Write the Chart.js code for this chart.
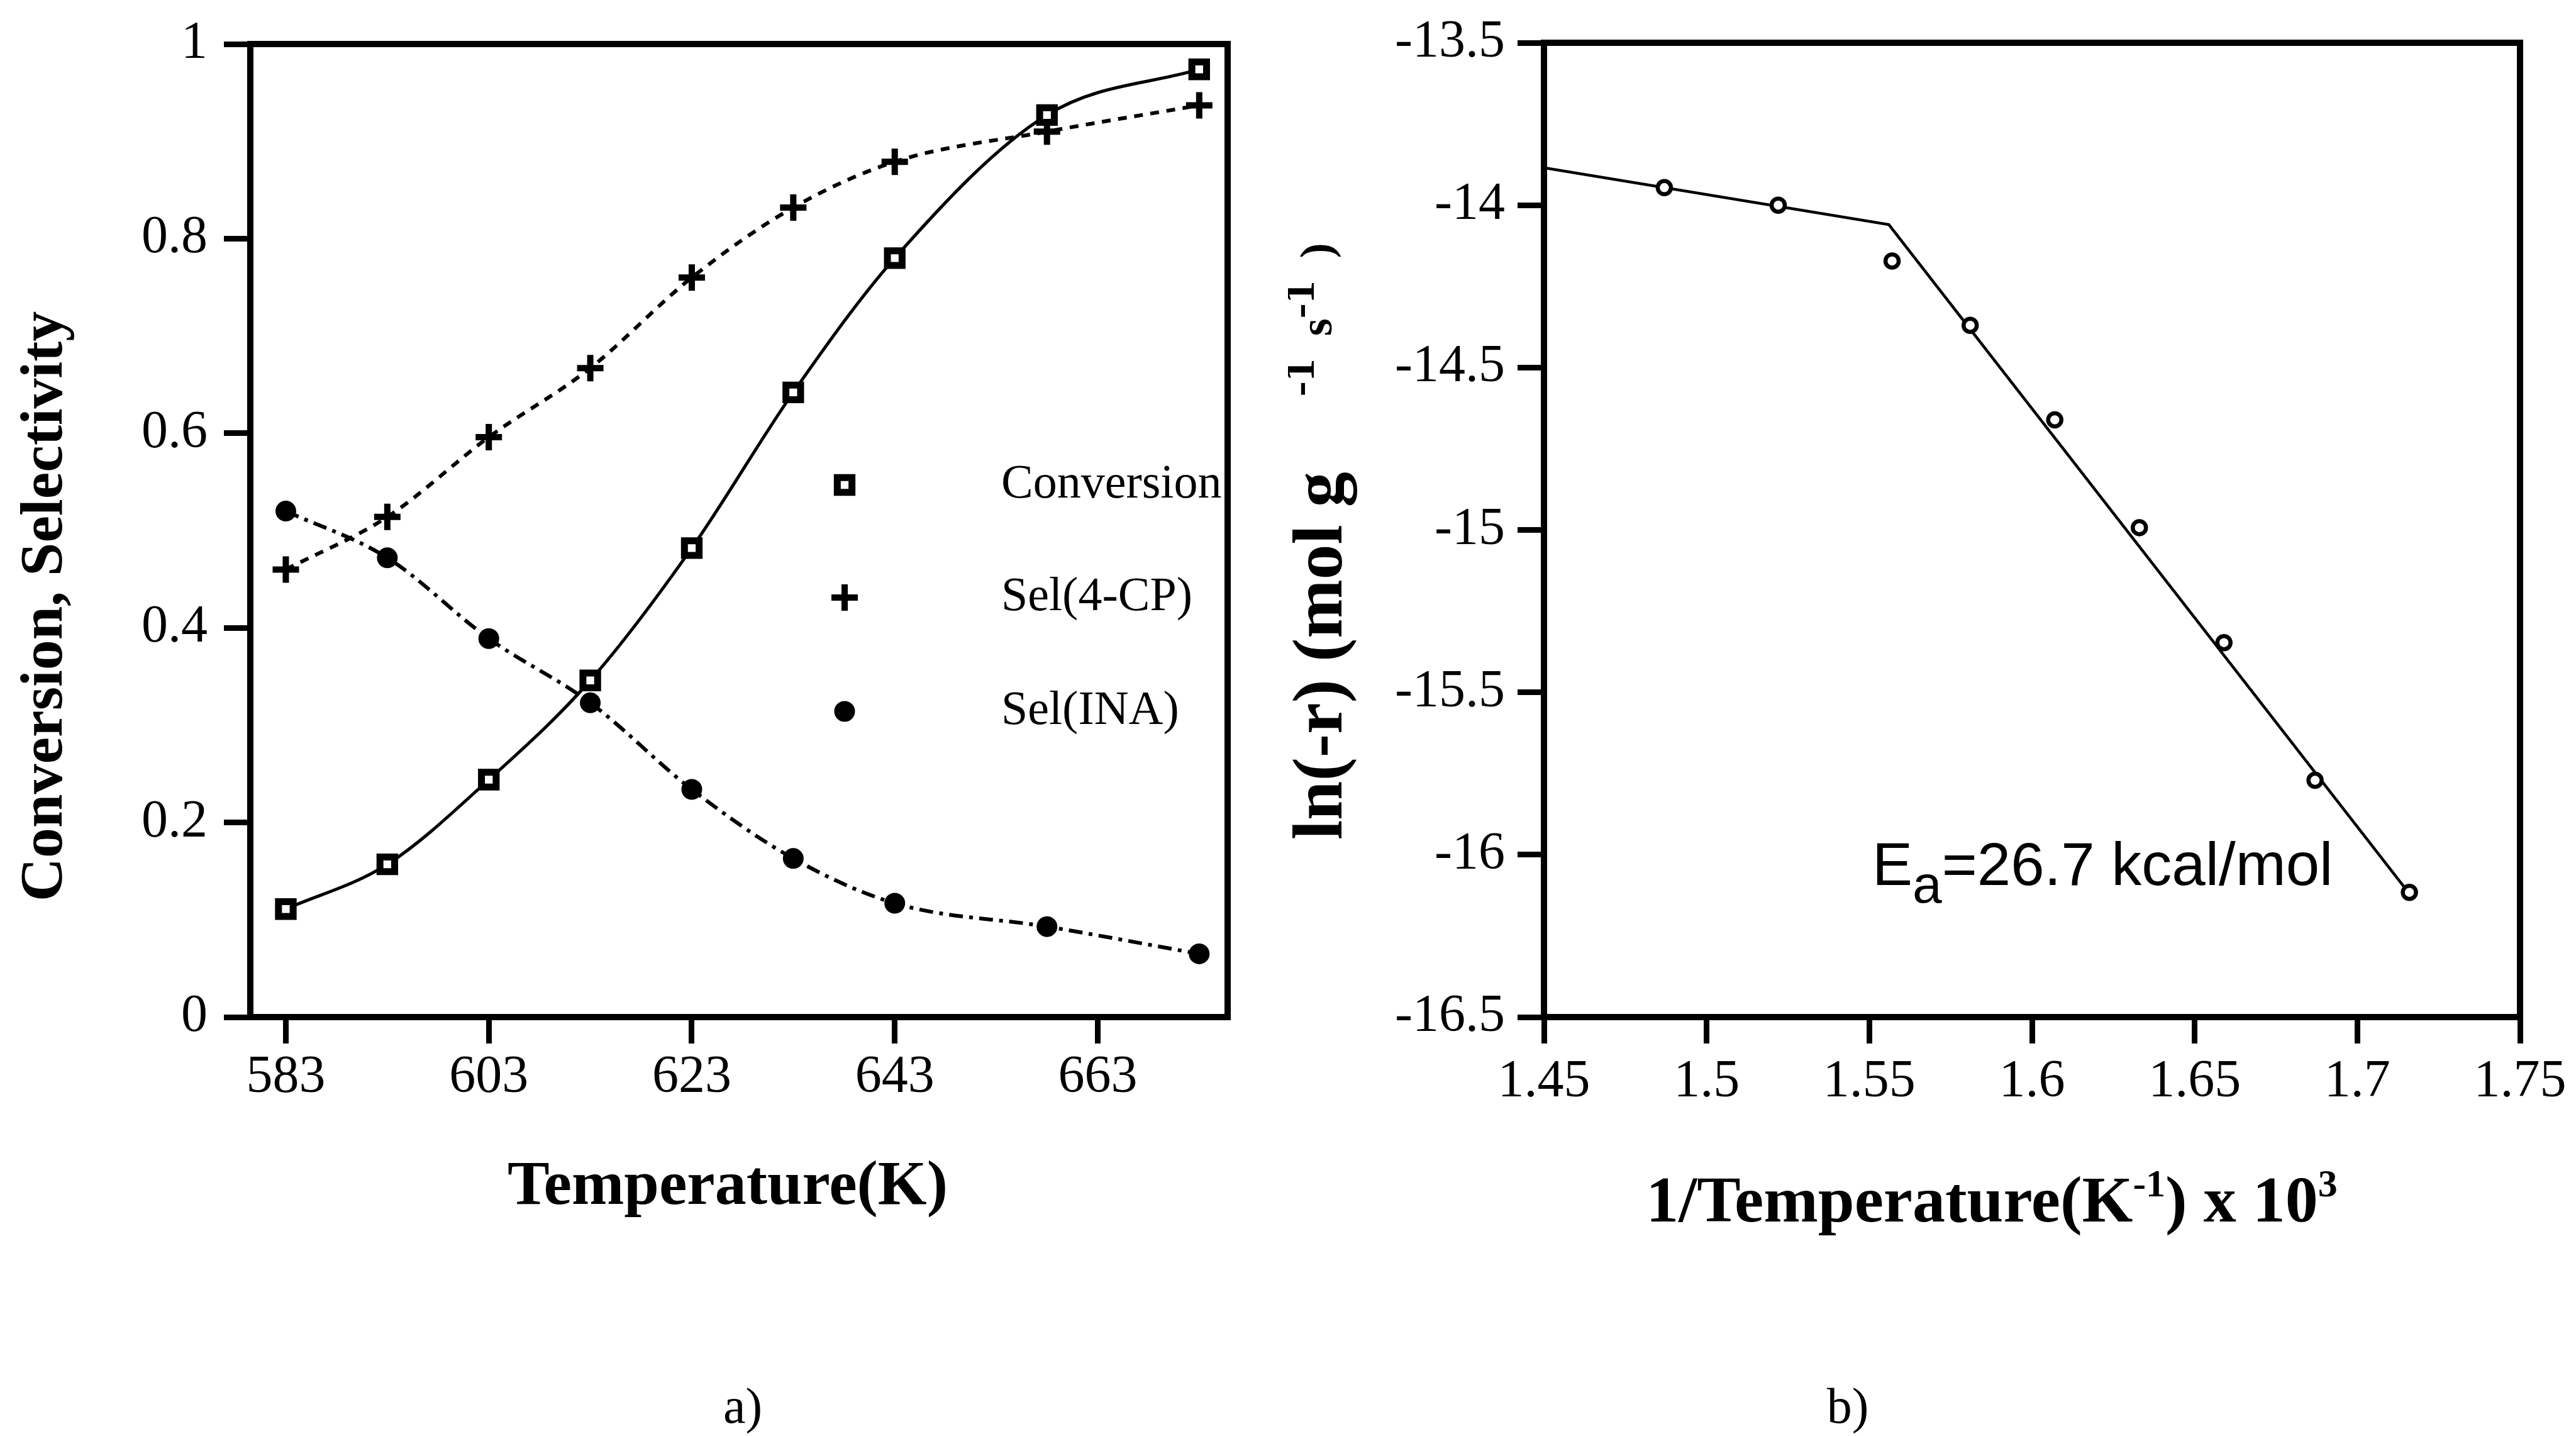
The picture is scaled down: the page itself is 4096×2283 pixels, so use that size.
<!DOCTYPE html>
<html lang="en">
<head>
<meta charset="UTF-8">
<title>Conversion, selectivity and Arrhenius plot</title>
<script src="https://cdn.jsdelivr.net/npm/chart.js@4.4.1/dist/chart.umd.min.js"></script>
<style>
  * { margin: 0; padding: 0; box-sizing: border-box; }
  html, body { width: 4096px; height: 2283px; background: #fff; overflow: hidden; }
  .panel { position: absolute; top: 0; width: 2048px; height: 2283px; }
  #panelA { left: 0; }
  #panelB { left: 2048px; }
</style>
</head>
<body>
<div class="panel" id="panelA"><canvas id="chartA"></canvas></div>
<div class="panel" id="panelB"><canvas id="chartB"></canvas></div>
<script>
// a) conversion and selectivities against temperature
const temperature = [583, 593, 603, 613, 623, 633, 643, 658, 673];
const conversion = [0.111, 0.157, 0.244, 0.346, 0.482, 0.642, 0.780, 0.927, 0.974];
const selCP = [0.460, 0.514, 0.596, 0.667, 0.760, 0.832, 0.879, 0.910, 0.937];
const selINA = [0.520, 0.472, 0.389, 0.323, 0.234, 0.163, 0.117, 0.093, 0.065];
const tempTicks = [583, 603, 623, 643, 663];
const fracTicks = [0, 0.2, 0.4, 0.6, 0.8, 1];
const fracLabels = ['0', '0.2', '0.4', '0.6', '0.8', '1'];

// b) Arrhenius plot
const invTemp = [1.487, 1.522, 1.557, 1.581, 1.607, 1.633, 1.659, 1.687, 1.716];
const lnRate = [-13.946, -14.0, -14.172, -14.37, -14.661, -14.993, -15.347, -15.771, -16.116];
const fitX = [1.45, 1.556, 1.716];
const fitY = [-13.885, -14.06, -16.12];
const invTicks = [1.45, 1.5, 1.55, 1.6, 1.65, 1.7, 1.75];
const invLabels = ['1.45', '1.5', '1.55', '1.6', '1.65', '1.7', '1.75'];
const lnTicks = [-16.5, -16, -15.5, -15, -14.5, -14, -13.5];
const lnLabels = ['-16.5', '-16', '-15.5', '-15', '-14.5', '-14', '-13.5'];

const SERIF = "'Liberation Serif', 'Times New Roman', serif";
const SANS = "'Liberation Sans', Arial, sans-serif";

const xy = (xs, ys) => xs.map((x, i) => ({ x: x, y: ys[i] }));

// draw a row of text pieces (font, offset) one after the other
function drawRuns(ctx, runs, x, y, align) {
    let total = 0;
    runs.forEach(r => { ctx.font = r.font; total += ctx.measureText(r.text).width + (r.gap || 0); });
    let cx = align === 'center' ? x - total / 2 : x;
    runs.forEach(r => {
        ctx.font = r.font;
        cx += r.gap || 0;
        ctx.fillText(r.text, cx, y + (r.dy || 0));
        cx += ctx.measureText(r.text).width;
    });
}

function frame(chart, width) {
    const a = chart.chartArea, ctx = chart.ctx;
    ctx.save();
    ctx.strokeStyle = '#000';
    ctx.lineWidth = width;
    ctx.strokeRect(a.left, a.top, a.right - a.left, a.bottom - a.top);
    ctx.restore();
}

function axisOpts(min, max, ticks, labels, pad, size) {
    return {
        type: 'linear',
        min: min,
        max: max,
        afterBuildTicks: s => { s.ticks = ticks.map(v => ({ value: v })); },
        afterFit: s => {
            if (s.isHorizontal()) { s.height = size; s.paddingLeft = 0; s.paddingRight = 0; }
            else { s.width = size; s.paddingTop = 0; s.paddingBottom = 0; }
        },
        ticks: {
            autoSkip: false,
            maxRotation: 0,
            color: '#000',
            padding: pad,
            font: { family: SERIF, size: 84 },
            callback: v => labels[ticks.indexOf(v)]
        },
        grid: {
            drawOnChartArea: false,
            drawTicks: true,
            tickLength: 42,
            tickWidth: 9,
            tickColor: '#000'
        },
        border: { display: false }
    };
}

const common = {
    responsive: true,
    maintainAspectRatio: false,
    animation: false,
    events: [],
    plugins: { legend: { display: false }, tooltip: { enabled: false } }
};

// Chart a)
new Chart(document.getElementById('chartA'), {
    type: 'line',
    data: {
        datasets: [{
            label: 'Conversion',
            data: xy(temperature, conversion),
            borderColor: '#000',
            borderWidth: 5,
            cubicInterpolationMode: 'monotone',
            pointStyle: 'rect',
            pointRadius: 16.5,
            pointBorderWidth: 11,
            pointBackgroundColor: '#fff',
            pointBorderColor: '#000'
        }, {
            label: 'Sel(4-CP)',
            data: xy(temperature, selCP),
            borderColor: '#000',
            borderWidth: 6,
            borderDash: [14, 12],
            cubicInterpolationMode: 'monotone',
            pointStyle: 'cross',
            pointRadius: 21,
            pointBorderWidth: 10,
            pointBackgroundColor: '#000',
            pointBorderColor: '#000'
        }, {
            label: 'Sel(INA)',
            data: xy(temperature, selINA),
            borderColor: '#000',
            borderWidth: 6,
            borderDash: [22, 10, 6, 10],
            cubicInterpolationMode: 'monotone',
            pointStyle: 'circle',
            pointRadius: 15,
            pointBorderWidth: 3,
            pointBackgroundColor: '#000',
            pointBorderColor: '#000'
        }]
    },
    options: Object.assign({}, common, {
        layout: { padding: { left: 18, right: 96, top: 70, bottom: 366 } },
        scales: {
            x: axisOpts(579.5, 675.8, tempTicks, tempTicks.map(String), 5, 300),
            y: axisOpts(0, 1, fracTicks, fracLabels, 26, 380)
        }
    }),
    plugins: [{
        id: 'decorA',
        beforeDatasetsDraw(chart) { frame(chart, 10); },
        afterDraw(chart) {
            const ctx = chart.ctx;
            ctx.save();
            ctx.fillStyle = '#000';
            ctx.strokeStyle = '#000';

            // legend
            const rowsY = [771, 950, 1131];
            chart.data.datasets.forEach((ds, i) => {
                ctx.lineWidth = ds.pointBorderWidth;
                ctx.fillStyle = ds.pointBackgroundColor;
                Chart.helpers.drawPoint(ctx, {
                    pointStyle: ds.pointStyle, radius: ds.pointRadius,
                    rotation: 0, borderWidth: ds.pointBorderWidth
                }, 1343, rowsY[i]);
                ctx.fillStyle = '#000';
                ctx.font = `76px ${SERIF}`;
                ctx.textAlign = 'left';
                ctx.textBaseline = 'middle';
                ctx.fillText(ds.label, 1592, rowsY[i]);
            });

            // axis titles
            ctx.textAlign = 'center';
            ctx.textBaseline = 'alphabetic';
            ctx.font = `bold 100px ${SERIF}`;
            ctx.fillText('Temperature(K)', 1157, 1914);
            ctx.font = `80px ${SERIF}`;
            ctx.fillText('a)', 1181, 2262);

            ctx.translate(73, 964);
            ctx.rotate(-Math.PI / 2);
            ctx.textBaseline = 'middle';
            ctx.font = `bold 96px ${SERIF}`;
            ctx.fillText('Conversion, Selectivity', 0, 0);
            ctx.restore();
        }
    }]
});

// Chart b)
new Chart(document.getElementById('chartB'), {
    type: 'line',
    data: {
        datasets: [{
            label: 'measured',
            data: xy(invTemp, lnRate),
            showLine: false,
            pointStyle: 'circle',
            pointRadius: 10.5,
            pointBorderWidth: 6.5,
            pointBackgroundColor: '#fff',
            pointBorderColor: '#000'
        }, {
            label: 'fit',
            data: xy(fitX, fitY),
            borderColor: '#000',
            borderWidth: 4.5,
            tension: 0,
            pointRadius: 0
        }]
    },
    options: Object.assign({}, common, {
        layout: { padding: { left: 27, right: 89, top: 68, bottom: 366 } },
        scales: {
            x: axisOpts(1.45, 1.75, invTicks, invLabels, 12, 300),
            y: axisOpts(-16.5, -13.5, lnTicks, lnLabels, 20, 380)
        }
    }),
    plugins: [{
        id: 'decorB',
        beforeDatasetsDraw(chart) { frame(chart, 10); },
        afterDraw(chart) {
            const ctx = chart.ctx;
            ctx.save();
            ctx.fillStyle = '#000';
            ctx.textBaseline = 'alphabetic';
            ctx.textAlign = 'left';

            const big = `bold 104px ${SERIF}`, sup = `bold 62px ${SERIF}`;
            drawRuns(ctx, [
                { text: '1/Temperature(K', font: big },
                { text: '-1', font: sup, dy: -40 },
                { text: ') x 10', font: big },
                { text: '3', font: sup, dy: -40 }
            ], 1119, 1942, 'center');

            drawRuns(ctx, [
                { text: 'E', font: `96px ${SANS}` },
                { text: 'a', font: `84px ${SANS}`, dy: 28 },
                { text: '=26.7 kcal/mol', font: `96px ${SANS}` }
            ], 929, 1407, 'left');

            ctx.font = `80px ${SERIF}`;
            ctx.textAlign = 'center';
            ctx.fillText('b)', 890, 2262);

            ctx.textAlign = 'left';
            ctx.translate(48, 1335);
            ctx.rotate(-Math.PI / 2);
            const small = `bold 72px ${SERIF}`;
            drawRuns(ctx, [
                { text: 'ln(-r) (mol g', font: `bold 112px ${SERIF}` },
                { text: '-1', font: small, dy: -44, gap: 120 },
                { text: '  s', font: small, dy: -16 },
                { text: '-1', font: small, dy: -44 },
                { text: '  )', font: small, dy: -16 }
            ], 0, 37, 'left');
            ctx.restore();
        }
    }]
});
</script>
</body>
</html>
